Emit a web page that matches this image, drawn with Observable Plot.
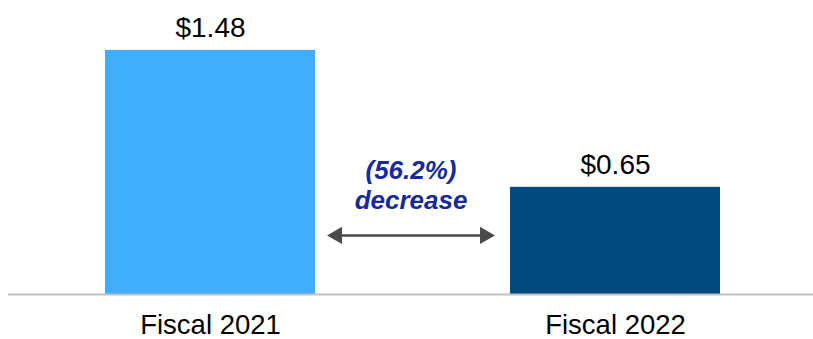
<!DOCTYPE html>
<html><head><meta charset="utf-8">
<script src="https://cdn.jsdelivr.net/npm/d3@7"></script>
<script src="https://cdn.jsdelivr.net/npm/@observablehq/plot@0.6"></script>
<style>body{margin:0;background:#fff;} svg{display:block;}</style>
</head><body><div id="chart"></div>
<script>
const categories = ["Fiscal 2021", "Fiscal 2022"];
const eps = [1.48, 0.65];
const valueLabels = ["$1.48", "$0.65"];
const barColors = ["#40adff", "#004a7f"];
const changeLines = ["(56.2%)", "decrease"];
const annotationY = 0.67;
const arrowY = 0.358;

const data = categories.map((c, i) => ({category: c, value: eps[i], label: valueLabels[i]}));
const note = [{text: changeLines.join("\n"), y: annotationY}];
const arrow = [{y: arrowY}];

const chart = Plot.plot({
  width: 813,
  height: 339,
  marginTop: 0,
  marginBottom: 45,
  marginLeft: 8,
  marginRight: 0,
  style: {fontFamily: "'Liberation Sans', Arial, Helvetica, sans-serif", background: "#fff", color: "#000"},
  x: {domain: categories, range: [7.25, 818.25], paddingInner: 0.482, paddingOuter: 0.241, label: null},
  y: {domain: [0, 1.783], axis: null},
  color: {domain: categories, range: barColors},
  marks: [
    Plot.barY(data, {x: "category", y: "value", fill: "category"}),
    Plot.ruleY([0], {stroke: "#c0c0c0", strokeWidth: 2}),
    Plot.axisX({tickSize: 0, tickPadding: 20, fontSize: 27.5, label: null}),
    Plot.text(data, {x: "category", y: "value", text: "label", dy: -22, fontSize: 28, fill: "#000"}),
    Plot.text(note, {y: "y", text: "text", frameAnchor: "middle", fontSize: 26, fontWeight: "bold", fontStyle: "italic", fill: "#172a98", lineHeight: 1.18}),
    Plot.ruleY(arrow, {y: "y", stroke: "#4a4a4a", strokeWidth: 2.5, insetLeft: 325, insetRight: 324}),
    Plot.dot(arrow, {y: "y", frameAnchor: "middle", symbol: "triangle", r: 6.4, fill: "#4a4a4a", stroke: "none", rotate: -90, dx: -74}),
    Plot.dot(arrow, {y: "y", frameAnchor: "middle", symbol: "triangle", r: 6.4, fill: "#4a4a4a", stroke: "none", rotate: 90, dx: 74})
  ]
});
document.getElementById("chart").append(chart);
</script>
</body></html>
